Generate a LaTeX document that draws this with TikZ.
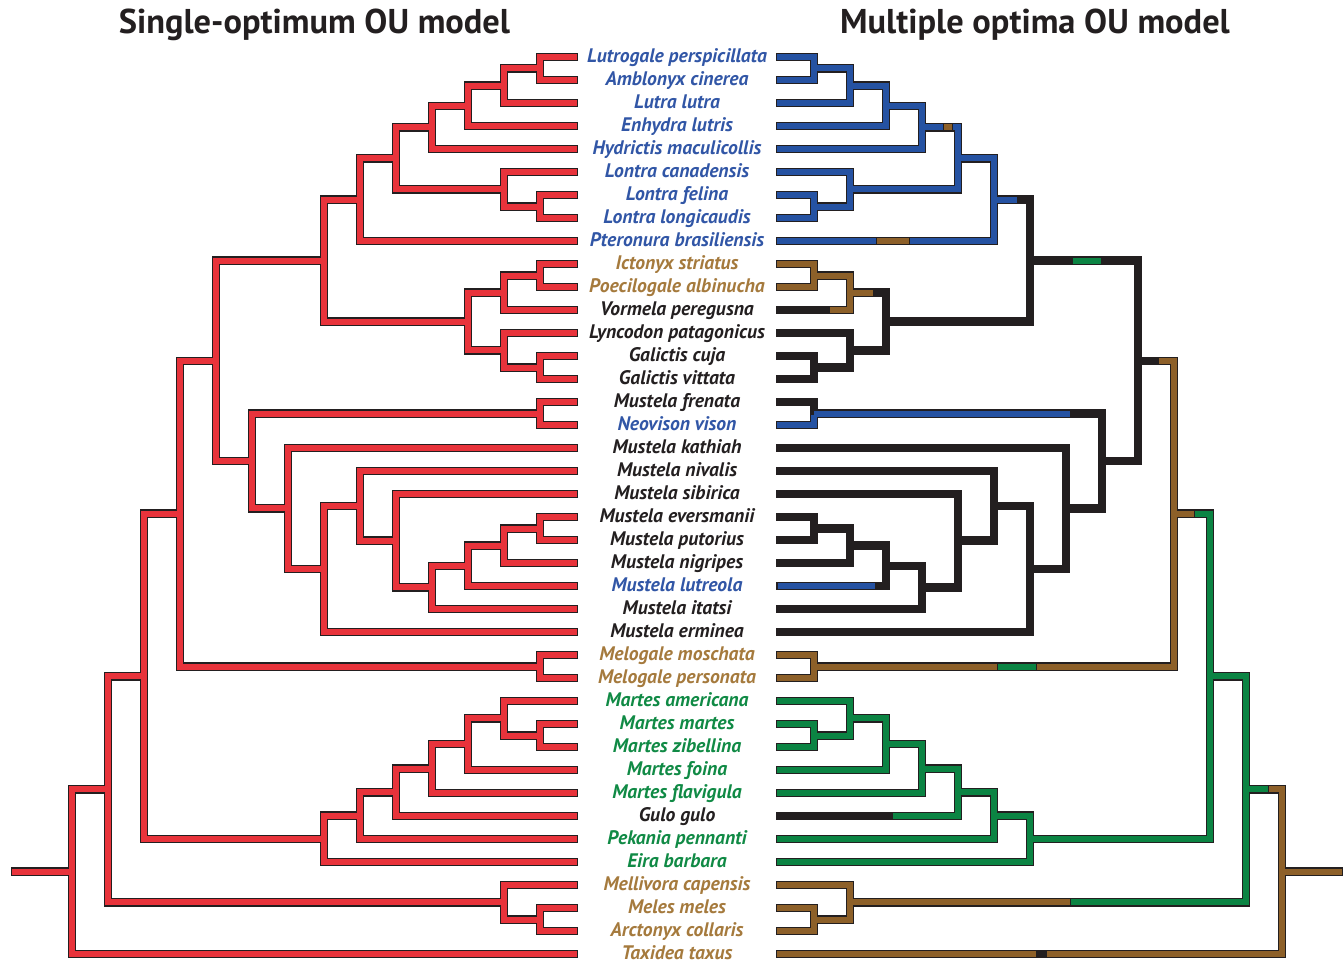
\documentclass[tikz,border=0pt]{standalone}
\usepackage{fontspec}
\setmainfont{PT Sans}
\usetikzlibrary{calc}
\definecolor{ck}{HTML}{231F20}
\definecolor{cred}{HTML}{E8333B}
\definecolor{cb}{HTML}{2552A2}
\definecolor{cbr}{HTML}{8D6029}
\definecolor{cg}{HTML}{0B8443}
\definecolor{tb}{HTML}{3156A6}
\definecolor{tbr}{HTML}{A57A3D}
\definecolor{tg}{HTML}{108A45}
\tikzset{
  brout/.style={line width=6.4pt, draw=ck},
  brin/.style={line width=4.5pt, shorten <=0.9pt, shorten >=0.9pt},
  segbar/.style={line width=4.5pt},
  segsep/.style={line width=0.5pt, draw=ck},
  sp/.style={font=\fontsize{14.7}{16}\selectfont\bfseries\itshape, anchor=base, inner sep=0pt},
  ttl/.style={font=\fontsize{25.8}{28}\selectfont\bfseries, text=ck, anchor=base, inner sep=0pt}
}
\newcommand{\brseg}[4]{%
  \draw[segbar, draw=#1] ($(#2)+(#3,0)$) -- ++(#4,0);
  \draw[segsep] ($(#2)+(#3,-3)$) -- ++(0,6) ($(#2)+({#3+#4},-3)$) -- ++(0,6);
}
\newcommand{\brsegn}[3]{%
  \draw[segbar, draw=#1] (#2) -- ++(#3,0);
  \draw[segsep] ($(#2)+(#3,-3)$) -- ++(0,6);
}
\def\innerlist{oa/1/68.5/1/2/cb, ob/2/85.75/oa/3/cb, oc/3/105.875/ob/4/cb,
  od/4/127.44/oc/5/cb, lg/1/206.5/7/8/cb, lf/2/189.25/6/lg/cb,
  oe/5/158.34/od/lf/cb, oh/6/199.67/oe/9/cb, ik/1/275.5/10/11/cbr,
  il/2/292.75/ik/12/cbr, go/1/367.5/14/15/ck, gn/2/350.25/13/go/ck,
  gm/3/321.5/il/gn/ck, gi/7/260.59/oh/gm/ck, fv/1/413.5/16/17/ck,
  mx/1/528.5/21/22/ck, mw/2/545.75/mx/23/ck, mv/3/565.875/mw/24/ck,
  mu/4/587.44/mv/25/ck, mt/5/540.72/20/mu/ck, mr/6/505.86/19/mt/ck,
  ms/7/568.93/mr/26/ck, mq/8/508.47/18/ms/ck, mp/9/460.98/fv/mq/ck,
  mj/10/360.79/gi/mp/ck, mg/1/666.5/27/28/cbr, my/11/513.64/mj/mg/cbr,
  mz/1/735.5/30/31/cg, ma/2/718.25/29/mz/cg, mf/3/744.125/ma/32/cg,
  mfl/4/768.56/mf/33/cg, gu/5/792.28/mfl/34/cg, pe/6/815.64/gu/35/cg,
  ei/7/838.82/pe/36/cg, aa/12/676.23/my/ei/cg, ba/1/919.5/38/39/cbr,
  bm/2/902.25/37/ba/cbr, zz/13/789.24/aa/bm/cg, rt/14/871.62/zz/40/cbr}

\begin{document}
\begin{tikzpicture}[x=0.75pt,y=-0.75pt]
  \useasboundingbox (0,0) rectangle (1344,963);
  \node[ttl] (ttlL) at (314.5,34) {Single-optimum OU model};
  \node[ttl] (ttlR) at (1035,34) {Multiple optima OU model};
  \foreach \i/\nm/\col in {1/Lutrogale perspicillata/tb, 2/Amblonyx cinerea/tb,
    3/Lutra lutra/tb, 4/Enhydra lutris/tb, 5/Hydrictis maculicollis/tb,
    6/Lontra canadensis/tb, 7/Lontra felina/tb, 8/Lontra longicaudis/tb,
    9/Pteronura brasiliensis/tb, 10/Ictonyx striatus/tbr,
    11/Poecilogale albinucha/tbr, 12/Vormela peregusna/ck,
    13/Lyncodon patagonicus/ck, 14/Galictis cuja/ck, 15/Galictis vittata/ck,
    16/Mustela frenata/ck, 17/Neovison vison/tb, 18/Mustela kathiah/ck,
    19/Mustela nivalis/ck, 20/Mustela sibirica/ck, 21/Mustela eversmanii/ck,
    22/Mustela putorius/ck, 23/Mustela nigripes/ck, 24/Mustela lutreola/tb,
    25/Mustela itatsi/ck, 26/Mustela erminea/ck, 27/Melogale moschata/tbr,
    28/Melogale personata/tbr, 29/Martes americana/tg, 30/Martes martes/tg,
    31/Martes zibellina/tg, 32/Martes foina/tg, 33/Martes flavigula/tg,
    34/Gulo gulo/ck, 35/Pekania pennanti/tg, 36/Eira barbara/tg,
    37/Mellivora capensis/tbr, 38/Meles meles/tbr, 39/Arctonyx collaris/tbr,
    40/Taxidea taxus/tbr}{
    \coordinate (L\i) at (578,{34+23*\i});
    \coordinate (R\i) at (776,{34+23*\i});
    \node[sp, text=\col] (s\i) at (677,{39.5+23*\i}) {\nm};
  }
  \foreach \n/\lv/\y/\p/\q/\col in \innerlist{
    \coordinate (L\n) at ({576-36*\lv},\y);
    \coordinate (R\n) at ({778+36*\lv},\y);
  }
  \coordinate (Lstem) at (11,871.62);
  \coordinate (Rstem) at (1343,871.62);
  \foreach \n/\lv/\y/\p/\q/\col in \innerlist{
    \draw[brout] (L\p) -| (L\n) |- (L\q);
    \draw[brout] (R\p) -| (R\n) |- (R\q);
  }
  \draw[brout] (Lrt) -- (Lstem);
  \draw[brout] (Rrt) -- (Rstem);
  \foreach \n/\lv/\y/\p/\q/\col in \innerlist{
    \draw[brin, draw=cred] (L\p) -| (L\n) |- (L\q);
    \draw[brin, draw=\col] (R\p) -| (R\n) |- (R\q);
  }
  \draw[brin, draw=cb] (Rfv) |- (R17);
  \draw[brin, draw=cred] (Lrt) -- (Lstem);
  \draw[brin, draw=cbr] (Rrt) -- (Rstem);
  \brseg{cbr}{R9}{100}{33}
  \brseg{cbr}{Rod}{21}{9}
  \brsegn{cb}{Roh}{23}
  \brsegn{cbr}{Ril}{23}
  \brseg{ck}{R12}{1.2}{52}
  \brsegn{cb}{Rfv}{256}
  \brseg{cb}{R24}{1.2}{98}
  \brseg{cg}{Rgi}{42}{29}
  \brsegn{ck}{Rmj}{20}
  \brseg{cg}{Rmg}{183}{39}
  \brsegn{cbr}{Rmy}{20}
  \brseg{ck}{R34}{1.2}{115}
  \brsegn{cbr}{Rbm}{220}
  \brsegn{cg}{Rzz}{22}
  \brseg{ck}{R40}{260}{10}
\end{tikzpicture}
\end{document}
